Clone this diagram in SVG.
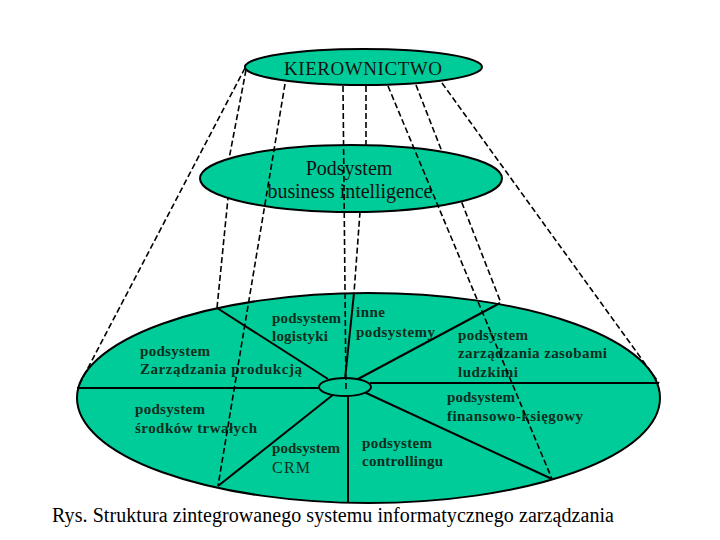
<svg xmlns="http://www.w3.org/2000/svg" width="720" height="540" viewBox="0 0 720 540">
<style>
.node{fill:#00cc99;stroke:#000;stroke-width:2}
.spoke{stroke:#000;stroke-width:2;fill:none}
.dash{stroke:#000;stroke-width:1.6;stroke-dasharray:6 3;fill:none}
.lbl{font-family:"Liberation Serif","Times New Roman",serif;font-size:15px;font-weight:bold;fill:#0e2e1e}
.lbln{font-family:"Liberation Serif","Times New Roman",serif;font-size:16px;fill:#0e2e1e}
.ttl{font-family:"Liberation Serif","Times New Roman",serif;fill:#111;text-anchor:middle}
.cap{font-family:"Liberation Serif","Times New Roman",serif;font-size:20px;fill:#000}
</style>
<rect width="720" height="540" fill="#fff"/>
<g id="system">
<ellipse class="node" cx="368.5" cy="398" rx="291.5" ry="105" stroke-width="2.4"/>
<g id="sectors">
<line class="spoke" x1="217" y1="308" x2="328" y2="379"/>
<line class="spoke" x1="77" y1="388" x2="320" y2="388"/>
<line class="spoke" x1="500" y1="303" x2="358" y2="379"/>
<line class="spoke" x1="370" y1="383" x2="659" y2="383"/>
<line class="spoke" x1="354" y1="293" x2="345" y2="379"/>
<line class="spoke" x1="348" y1="395" x2="348" y2="503"/>
<line class="spoke" x1="334" y1="394" x2="218" y2="486"/>
<line class="spoke" x1="364" y1="392" x2="552" y2="479"/>
</g>
<ellipse id="hub" class="node" cx="345" cy="387" rx="26" ry="9"/>
</g>
<g id="labels">
<g id="l-logistyka"><text class="lbl" x="272" y="323" textLength="69">podsystem</text><text class="lbl" x="272" y="341" textLength="56">logistyki</text></g>
<g id="l-inne"><text class="lbl" x="356" y="317" textLength="29">inne</text><text class="lbl" x="356" y="337" textLength="79">podsystemy</text></g>
<g id="l-hr"><text class="lbl" x="458" y="340" textLength="70">podsystem</text><text class="lbl" x="458" y="358" textLength="149">zarządzania zasobami</text><text class="lbl" x="458" y="377" textLength="60">ludzkimi</text></g>
<g id="l-produkcja"><text class="lbl" x="140" y="356" textLength="70">podsystem</text><text class="lbl" x="140" y="374" textLength="162">Zarządzania produkcją</text></g>
<g id="l-srodki"><text class="lbl" x="135" y="414" textLength="70">podsystem</text><text class="lbl" x="135" y="433" textLength="122">środków trwałych</text></g>
<g id="l-fk"><text class="lbl" x="447" y="402" textLength="68">podsystem</text><text class="lbl" x="447" y="421" textLength="136">finansowo-księgowy</text></g>
<g id="l-crm"><text class="lbl" x="272" y="453" textLength="68">podsystem</text><text class="lbln" x="272" y="473" textLength="38">CRM</text></g>
<g id="l-controlling"><text class="lbl" x="362" y="448" textLength="70">podsystem</text><text class="lbl" x="362" y="466" textLength="81">controllingu</text></g>
</g>
<g id="connectors-back">
<polyline class="dash" points="246,70 229,159 228,198 217,308"/>
<polyline class="dash" points="366,86 366,146 360,212 354,293"/>
<line class="dash" x1="416" y1="85" x2="501" y2="303"/>
</g>
<g id="bi">
<ellipse class="node" cx="351" cy="178.5" rx="151" ry="33.5"/>
<text class="ttl" x="349" y="175" font-size="20">Podsystem</text>
<text class="ttl" x="350" y="198" font-size="20" textLength="165">business intelligence</text>
</g>
<g id="kierownictwo">
<ellipse class="node" cx="363.5" cy="67" rx="118.5" ry="18"/>
<text class="ttl" x="363" y="75" font-size="19" textLength="158">KIEROWNICTWO</text>
</g>
<g id="connectors">
<line class="dash" x1="245" y1="68" x2="78" y2="387"/>
<line class="dash" x1="285" y1="84" x2="218" y2="486"/>
<line class="dash" x1="343" y1="86" x2="346" y2="391"/>
<line class="dash" x1="388" y1="86" x2="552" y2="479"/>
<line class="dash" x1="442" y1="83" x2="659" y2="383"/>
</g>
<text class="cap" x="52" y="522" textLength="562">Rys. Struktura zintegrowanego systemu informatycznego zarządzania</text>
</svg>
